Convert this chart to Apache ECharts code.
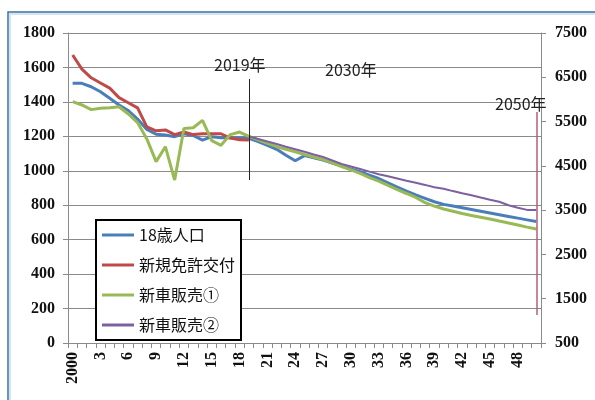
<!DOCTYPE html>
<html>
<head>
<meta charset="utf-8">
<script src="https://cdn.jsdelivr.net/npm/echarts/dist/echarts.min.js"></script>
<style>html,body{margin:0;padding:0;background:#fff;}#c{width:595px;height:400px;}</style>
</head>
<body>
<div id="c"></div>
<script>
// ---- data ----
var years = [];
for (var y = 2000; y <= 2050; y++) years.push(String(y));

var xTickLabels = ['2000','','','3','','','6','','','9','','','12','','','15','','','18','','','21','','','24','','','27','','','30','','','33','','','36','','','39','','','42','','','45','','','48','',''];

var seriesNames = ['18歳人口', '新規免許交付', '新車販売①', '新車販売②'];

// 18歳人口 (left axis)
var pop18 = [1508,1508,1488,1459,1421,1382,1350,1300,1240,1212,1208,1198,1215,1205,1178,1198,1192,1192,1190,1188,
  1170,1148,1125,1090,1058,1088,1075,1062,1045,1030,1010,995,975,955,930,905,882,860,840,820,
  805,795,785,775,765,755,745,735,725,715,705];

// 新規免許交付 (left axis)
var license = [1672,1590,1540,1510,1480,1425,1395,1365,1255,1232,1237,1210,1225,1210,1215,1215,1215,1190,1180,1178,
  null,null,null,null,null,null,null,null,null,null,null,null,null,null,null,null,null,null,null,null,
  null,null,null,null,null,null,null,null,null,null,null];

// 新車販売① (right axis)
var sales1 = [5950,5875,5770,5800,5810,5835,5672,5478,5108,4595,4933,4179,5346,5361,5528,5069,4964,5206,5264,5167,
  5089,5011,4933,4875,4817,4758,4700,4642,4564,4486,4408,4331,4233,4156,4058,3961,3876,3786,3669,3592,
  3526,3475,3424,3378,3339,3300,3253,3211,3164,3117,3074];

// 新車販売② (right axis)
var sales2 = [null,null,null,null,null,null,null,null,null,null,null,null,null,null,null,null,null,null,null,
  5167,5108,5050,4992,4933,4875,4817,4758,4700,4622,4544,4486,4428,4369,4311,4264,4214,4163,4117,4070,4019,
  3981,3930,3883,3837,3786,3736,3689,3611,3553,3506,3502];

var annotations = ['2019年', '2030年', '2050年'];

// ---- chart ----
var chart = echarts.init(document.getElementById('c'), null, {renderer: 'canvas'});
var axisFont = {fontFamily: 'Liberation Serif', fontWeight: 'bold', fontSize: 16, color: '#111'};
var gray = '#8a8a8a';
var plain = function (v) { return String(v); };

var option = {
  animation: false,
  backgroundColor: '#fff',
  grid: {left: 68, right: 54, top: 33, bottom: 57, containLabel: false},
  graphic: [
    {type: 'rect', shape: {x: 8, y: 12, width: 620, height: 420}, style: {fill: 'none', stroke: '#3d6f9c', lineWidth: 1.5}, z: 100},
    {type: 'rect', shape: {x: 10, y: 14, width: 620, height: 420}, style: {fill: 'none', stroke: '#d3e4f3', lineWidth: 2}, z: 100}
  ],
  legend: {
    orient: 'vertical', left: 96, top: 220,
    backgroundColor: '#fff', borderColor: '#000', borderWidth: 2,
    padding: [7, 6, 7, 6], itemGap: 14, itemWidth: 32, itemHeight: 3, icon: 'rect',
    textStyle: {fontFamily: 'Noto Sans CJK JP', fontSize: 16, color: '#111'},
    data: seriesNames, z: 50
  },
  xAxis: {
    type: 'category', data: years, boundaryGap: true,
    axisLine: {lineStyle: {color: gray, width: 1}},
    axisTick: {show: true, interval: 0, length: 5, lineStyle: {color: gray}},
    axisLabel: Object.assign({interval: 0, rotate: 90, margin: 9, formatter: function (v, i) { return xTickLabels[i]; }}, axisFont),
    splitLine: {show: false}
  },
  yAxis: [
    {type: 'value', min: 0, max: 1800, interval: 200, position: 'left',
     axisLine: {show: true, lineStyle: {color: gray}},
     axisTick: {show: true, length: 5, lineStyle: {color: gray}},
     axisLabel: Object.assign({margin: 13, formatter: plain}, axisFont),
     splitLine: {show: true, lineStyle: {color: gray, width: 1}}},
    {type: 'value', min: 500, max: 7500, interval: 1000, position: 'right',
     axisLine: {show: true, lineStyle: {color: gray}},
     axisTick: {show: true, length: 5, lineStyle: {color: gray}},
     axisLabel: Object.assign({margin: 14, formatter: plain}, axisFont),
     splitLine: {show: false}}
  ],
  series: [
    {name: seriesNames[0], type: 'line', data: pop18, yAxisIndex: 0, symbol: 'none',
     lineStyle: {color: '#4a7ebb', width: 3}, itemStyle: {color: '#4a7ebb'},
     markLine: {silent: true, symbol: 'none', animation: false,
       data: [
         [{coord: ['2019', 1533], lineStyle: {color: '#222', width: 1, type: 'solid'},
           label: {show: true, position: 'start', formatter: annotations[0], distance: 6, offset: [-9, 0],
             fontFamily: 'Noto Sans CJK JP', fontSize: 16, color: '#222'}},
          {coord: ['2019', 946]}],
         [{coord: ['2050', 1341], lineStyle: {color: '#b0607a', width: 1.5, type: 'solid'}, label: {show: false}},
          {coord: ['2050', 163]}]
       ]},
     markPoint: {silent: true, symbol: 'circle', symbolSize: 1, itemStyle: {color: 'rgba(0,0,0,0)'},
       label: {show: true, position: 'inside', fontFamily: 'Noto Sans CJK JP', fontSize: 16, color: '#222'},
       data: [
         {coord: ['2030', 1585], label: {formatter: annotations[1]}},
         {coord: ['2048', 1388], label: {formatter: annotations[2], offset: [3, 0]}}
       ]}
    },
    {name: seriesNames[1], type: 'line', data: license, yAxisIndex: 0, symbol: 'none',
     lineStyle: {color: '#be4b48', width: 3}, itemStyle: {color: '#be4b48'}},
    {name: seriesNames[2], type: 'line', data: sales1, yAxisIndex: 1, symbol: 'none',
     lineStyle: {color: '#98b954', width: 3}, itemStyle: {color: '#98b954'}},
    {name: seriesNames[3], type: 'line', data: sales2, yAxisIndex: 1, symbol: 'none',
     lineStyle: {color: '#7d60a0', width: 2}, itemStyle: {color: '#7d60a0'}}
  ]
};
chart.setOption(option);
</script>
</body>
</html>
